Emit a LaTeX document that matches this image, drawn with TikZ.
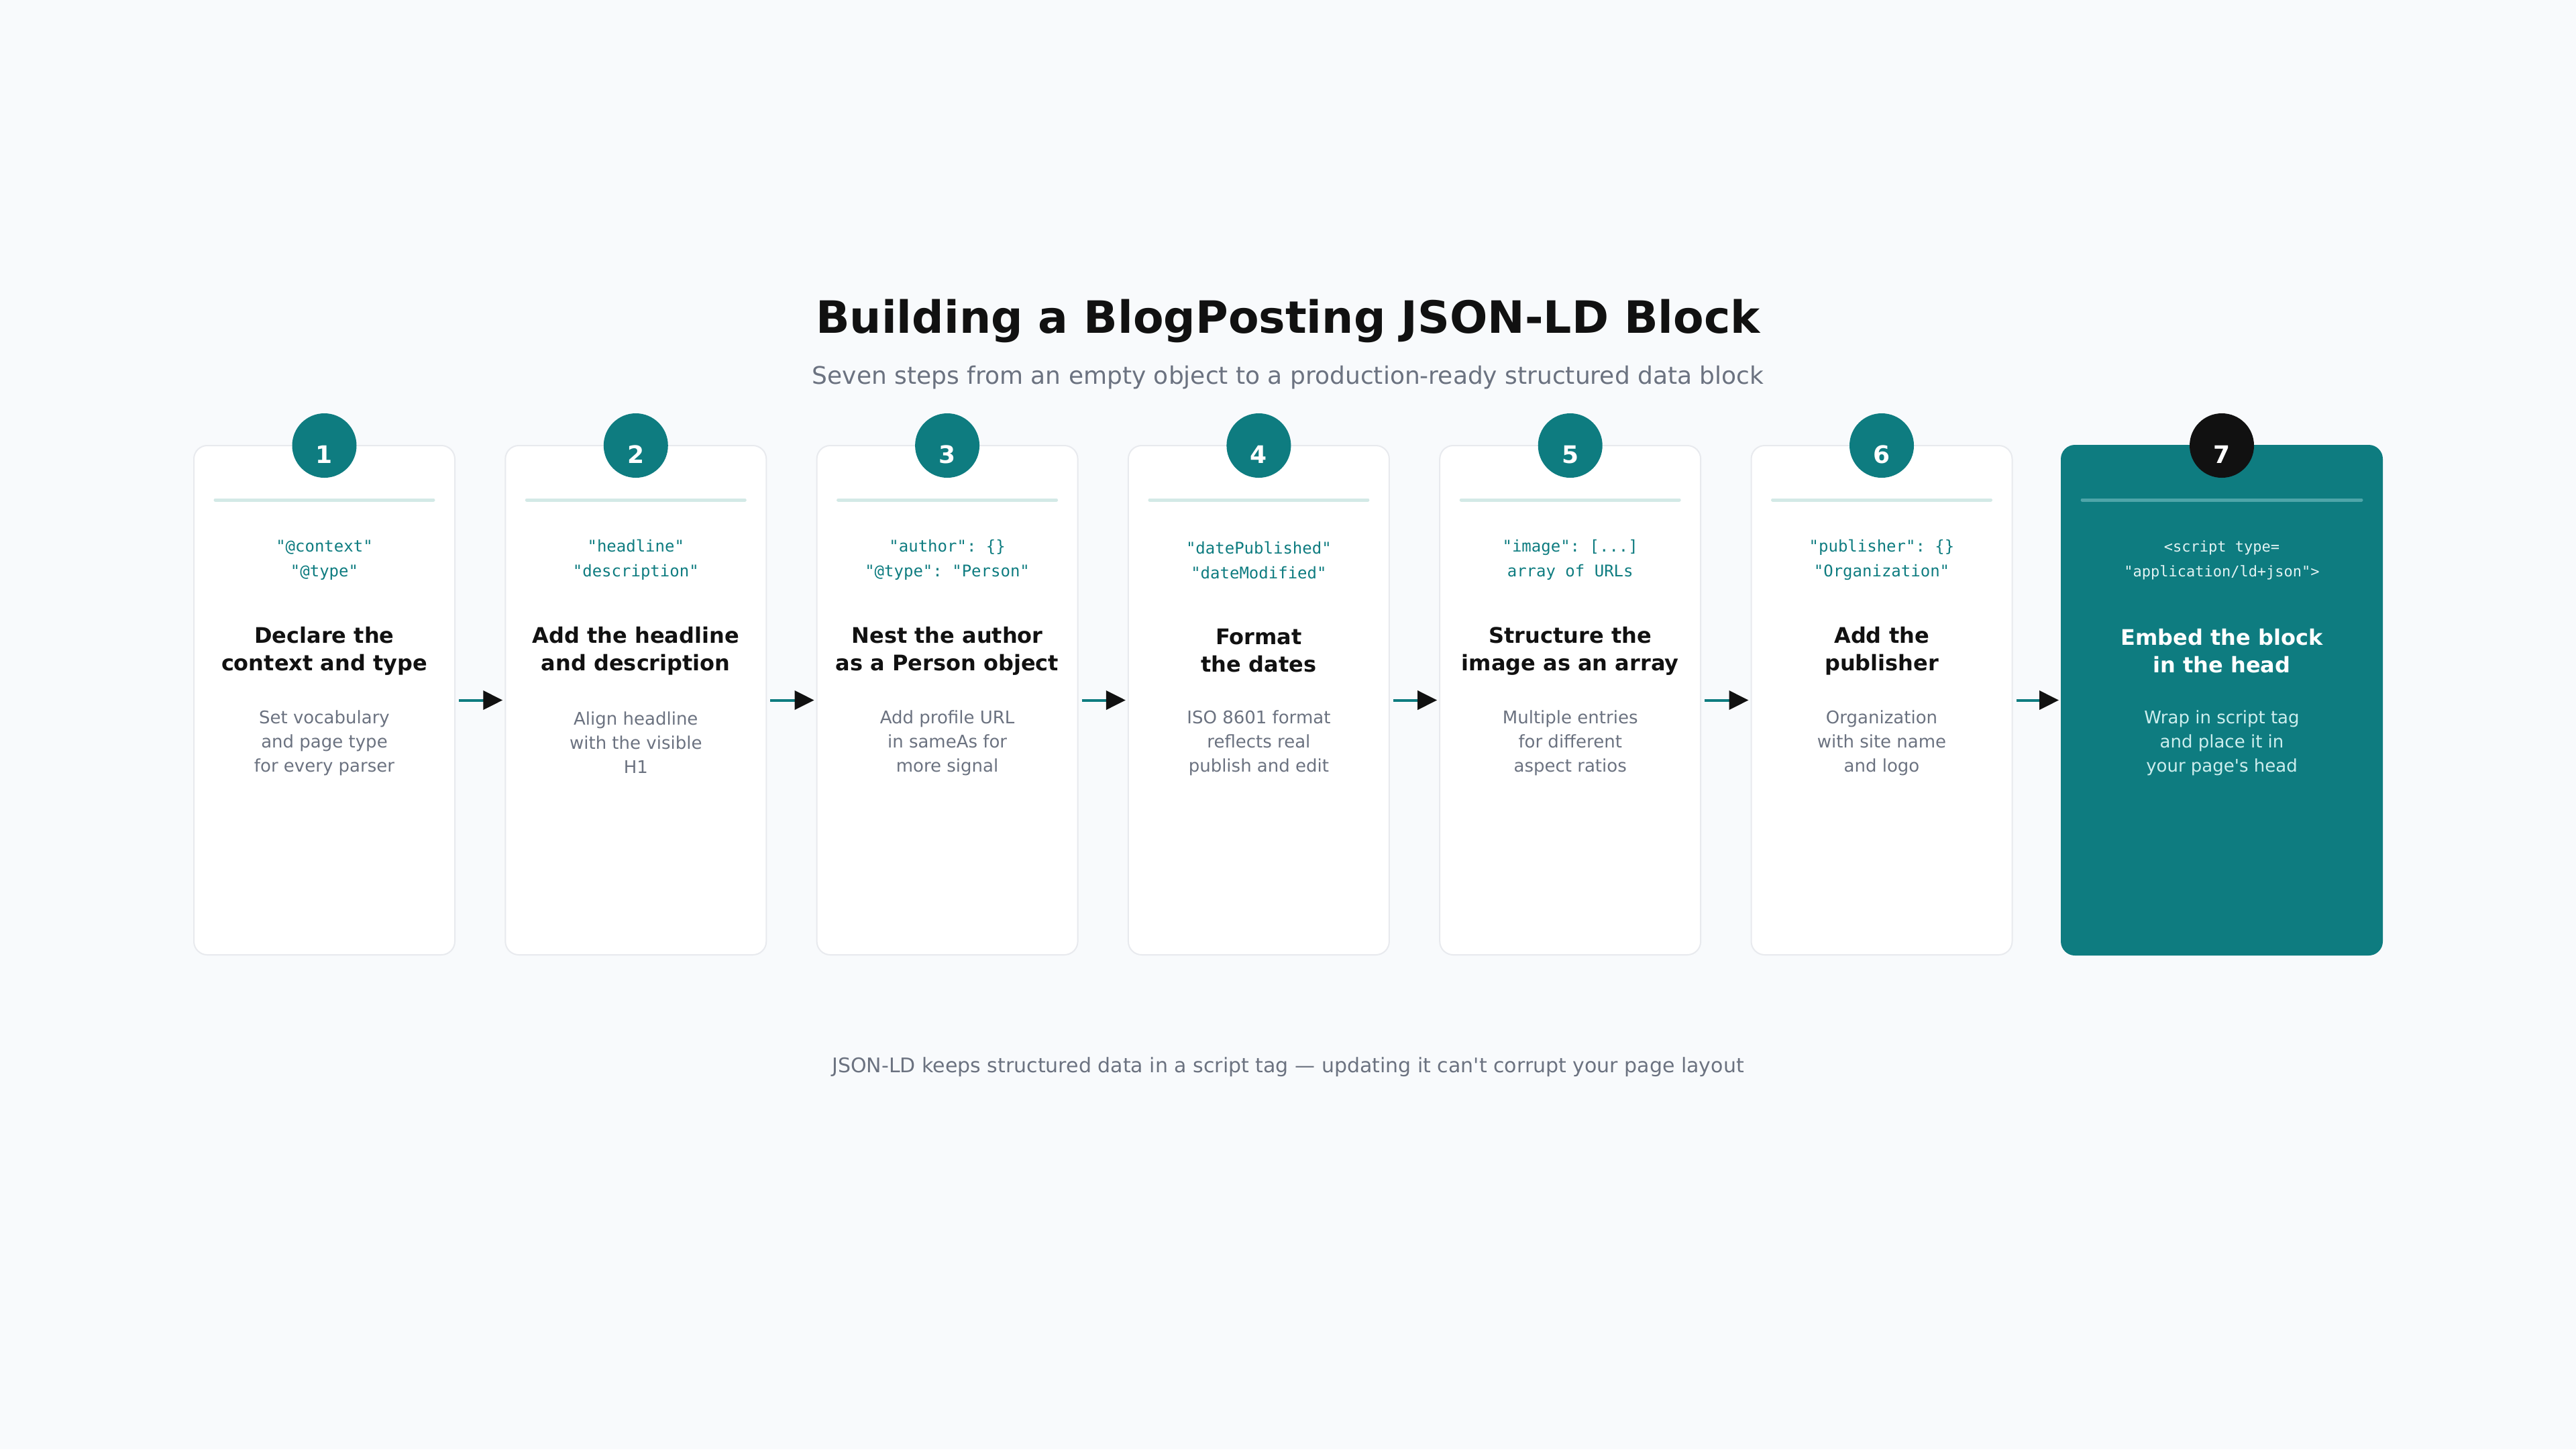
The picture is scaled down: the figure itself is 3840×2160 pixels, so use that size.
\documentclass[tikz,border=0pt]{standalone}
\usepackage{fontspec}
\setmainfont{DejaVu Sans}
\setmonofont{DejaVu Sans Mono}
\usetikzlibrary{arrows.meta}

\definecolor{pagebg}{HTML}{F8FAFC}
\definecolor{jsonteal}{HTML}{0E7C80}
\definecolor{inkdark}{HTML}{111111}
\definecolor{inkgray}{HTML}{6B7280}
\definecolor{cardline}{HTML}{E8EAEE}
\definecolor{seplight}{HTML}{D3E9E6}
\definecolor{sepdark}{HTML}{4FA5A9}
\definecolor{codelight}{HTML}{E3F3F3}
\definecolor{desclight}{HTML}{CDEEEE}

\tikzset{
  card/.style={draw=cardline, line width=1pt, fill=white, rounded corners=10pt,
    minimum width=194.5pt, minimum height=379.5pt, inner sep=0pt},
  lastcard/.style={card, draw=jsonteal, fill=jsonteal, minimum width=239pt},
  stepnum/.style={circle, fill=jsonteal, minimum size=48pt, inner sep=0pt,
    text height=26pt, text depth=0pt,
    text=white, font=\fontsize{18}{20}\selectfont\bfseries},
  sepline/.style={seplight, line width=2.5pt, line cap=round},
  codetxt/.style={align=center, text=jsonteal, font=\fontsize{12}{18.5}\ttfamily},
  steptitle/.style={align=center, text=inkdark, font=\fontsize{16}{20.5}\selectfont\bfseries},
  steptxt/.style={align=center, text=inkgray, font=\fontsize{13}{18}\selectfont},
  flow/.style={jsonteal, line width=2pt, shorten <=2.5pt, shorten >=1.5pt,
    -{Triangle[length=14.5pt, width=14pt, color=inkdark]}}
}

\begin{document}
\begin{tikzpicture}[x=0.5pt, y=-0.5pt]
\fill[pagebg] (0,0) rectangle (3840,2160);
\useasboundingbox (0,0) rectangle (3840,2160);

\node[text=inkdark, font=\fontsize{33.2}{40}\selectfont\bfseries] (title) at (1920,478) {Building a BlogPosting JSON-LD Block};
\node[text=inkgray, font=\fontsize{18}{20}\selectfont] (subtitle) at (1920,563) {Seven steps from an empty object to a production-ready structured data block};

% step cards
\node[card] (c1) at (483.5,1043.5) {};
\node[card] (c2) at (947.8,1043.5) {};
\node[card] (c3) at (1412.1,1043.5) {};
\node[card] (c4) at (1876.4,1043.5) {};
\node[card] (c5) at (2340.7,1043.5) {};
\node[card] (c6) at (2805,1043.5) {};
\node[lastcard] (c7) at (3312,1043.5) {};

\draw[sepline] (321,745) -- (646,745);
\draw[sepline] (785.3,745) -- (1110.3,745);
\draw[sepline] (1249.6,745) -- (1574.6,745);
\draw[sepline] (1713.9,745) -- (2038.9,745);
\draw[sepline] (2178.2,745) -- (2503.2,745);
\draw[sepline] (2642.5,745) -- (2967.5,745);
\draw[sepline, sepdark] (3104,745) -- (3520,745);

\node[stepnum] (n1) at (483.5,664) {1};
\node[stepnum] (n2) at (947.8,664) {2};
\node[stepnum] (n3) at (1412.1,664) {3};
\node[stepnum] (n4) at (1876.4,664) {4};
\node[stepnum] (n5) at (2340.7,664) {5};
\node[stepnum] (n6) at (2805,664) {6};
\node[stepnum, fill=inkdark] (n7) at (3312,664) {7};

\node[codetxt] (k1) at (483.5,834.5) {"@context"\\"@type"};
\node[codetxt] (k2) at (947.8,834.5) {"headline"\\"description"};
\node[codetxt] (k3) at (1412.1,834.5) {"author": \{\}\\"@type": "Person"};
\node[codetxt] (k4) at (1876.4,834.5) {"datePublished"\\"dateModified"};
\node[codetxt] (k5) at (2340.7,834.5) {"image": [...]\\array of URLs};
\node[codetxt] (k6) at (2805,834.5) {"publisher": \{\}\\"Organization"};
\node[codetxt, text=codelight, font=\fontsize{11}{18.5}\ttfamily] (k7) at (3312,834.5) {<script type=\\"application/ld+json">};

\node[steptitle] (t1) at (483.5,970) {Declare the\\context and type};
\node[steptitle] (t2) at (947.8,970) {Add the headline\\and description};
\node[steptitle] (t3) at (1412.1,970) {Nest the author\\as a Person object};
\node[steptitle] (t4) at (1876.4,970) {Format\\the dates};
\node[steptitle] (t5) at (2340.7,970) {Structure the\\image as an array};
\node[steptitle] (t6) at (2805,970) {Add the\\publisher};
\node[steptitle, text=white] (t7) at (3312,970) {Embed the block\\in the head};

\node[steptxt] (d1) at (483.5,1107) {Set vocabulary\\and page type\\for every parser};
\node[steptxt] (d2) at (947.8,1107) {Align headline\\with the visible\\H1};
\node[steptxt] (d3) at (1412.1,1107) {Add profile URL\\in sameAs for\\more signal};
\node[steptxt] (d4) at (1876.4,1107) {ISO 8601 format\\reflects real\\publish and edit};
\node[steptxt] (d5) at (2340.7,1107) {Multiple entries\\for different\\aspect ratios};
\node[steptxt] (d6) at (2805,1107) {Organization\\with site name\\and logo};
\node[steptxt, text=desclight] (d7) at (3312,1107) {Wrap in script tag\\and place it in\\your page\textquotesingle s head};

\draw[flow] (c1.east) -- (c2.west);
\draw[flow] (c2.east) -- (c3.west);
\draw[flow] (c3.east) -- (c4.west);
\draw[flow] (c4.east) -- (c5.west);
\draw[flow] (c5.east) -- (c6.west);
\draw[flow] (c6.east) -- (c7.west);

\node[text=inkgray, font=\fontsize{15}{18}\selectfont] (footer) at (1920,1590) {JSON-LD keeps structured data in a script tag — updating it can\textquotesingle t corrupt your page layout};

\end{tikzpicture}
\end{document}
